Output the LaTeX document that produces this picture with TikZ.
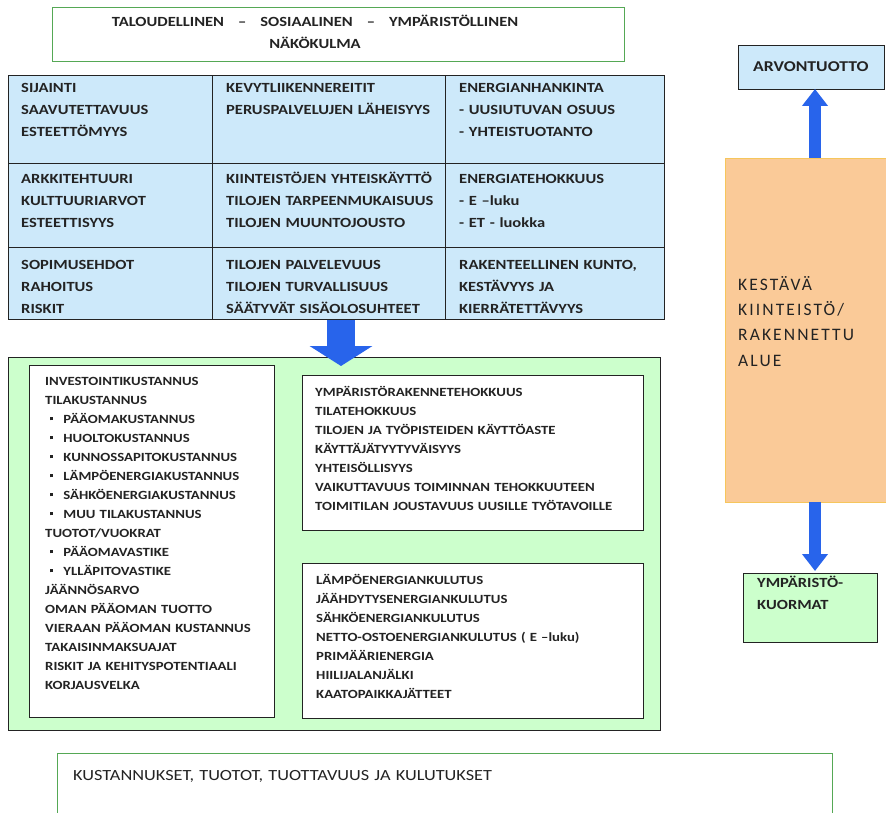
\documentclass[tikz,border=0pt]{standalone}
\usepackage{fontspec}
\setmainfont{Carlito}
\newfontfamily\boxfont[FakeStretch=1.18]{Carlito}
\newfontfamily\spacedfont[LetterSpace=12]{Carlito}
\usetikzlibrary{arrows.meta}

\definecolor{ink}{RGB}{35,35,35}
\definecolor{cellblue}{RGB}{205,233,250}
\definecolor{palegreen}{RGB}{204,255,204}
\definecolor{framegreen}{RGB}{85,168,85}
\definecolor{peach}{RGB}{250,202,152}
\definecolor{peachline}{RGB}{246,198,92}
\definecolor{arrowblue}{RGB}{40,100,235}

\newcommand{\sqitem}{\hspace*{5pt}\rule[2.6pt]{3.2pt}{3.2pt}\hspace*{10pt}}

\tikzset{
  boxframe/.style={draw=ink, line width=1.2pt, anchor=north west, inner sep=0pt},
  cell/.style={boxframe, fill=cellblue},
  gridtext/.style={anchor=base west, inner sep=0pt, align=left, text=ink, text width=#1,
    font=\boxfont\bfseries\fontsize{14}{22}\selectfont},
  gridtext/.default=200pt,
  listtext/.style={anchor=base west, inner sep=0pt, align=left, text=ink, text width=#1,
    font=\boxfont\bfseries\fontsize{12.5}{19}\selectfont},
  listtext/.default=320pt,
  bigarrow/.style={arrowblue, line width=28pt, -{Triangle[width=62pt,length=20pt]}},
  smallarrow/.style={arrowblue, line width=12pt, -{Triangle[width=25pt,length=17pt]}}
}

\begin{document}
\begin{tikzpicture}[x=1pt,y=-1pt]
  \useasboundingbox (0,0) rectangle (886,813);

  % header
  \node[boxframe, draw=framegreen, fill=white, minimum width=572pt, minimum height=54pt] (view) at (52,7) {};
  \node[gridtext=500pt, anchor=base, align=center] (viewtext) at (315,26.5)
    {TALOUDELLINEN\ \ \ –\ \ \ SOSIAALINEN\ \ \ –\ \ \ YMPÄRISTÖLLINEN\\NÄKÖKULMA};

  % factors grid
  \node[cell, minimum width=204pt, minimum height=88pt] (c11) at (8,75) {};
  \node[cell, minimum width=233pt, minimum height=88pt] (c12) at (212,75) {};
  \node[cell, minimum width=219pt, minimum height=88pt] (c13) at (445,75) {};
  \node[cell, minimum width=204pt, minimum height=84pt] (c21) at (8,163) {};
  \node[cell, minimum width=233pt, minimum height=84pt] (c22) at (212,163) {};
  \node[cell, minimum width=219pt, minimum height=84pt] (c23) at (445,163) {};
  \node[cell, minimum width=204pt, minimum height=72pt] (c31) at (8,247) {};
  \node[cell, minimum width=233pt, minimum height=72pt] (c32) at (212,247) {};
  \node[cell, minimum width=219pt, minimum height=72pt] (c33) at (445,247) {};

  \node[gridtext] (t11) at (21,92.5) {SIJAINTI\\SAAVUTETTAVUUS\\ESTEETTÖMYYS};
  \node[gridtext=230pt] (t12) at (226,92.5) {KEVYTLIIKENNEREITIT\\PERUSPALVELUJEN LÄHEISYYS};
  \node[gridtext] (t13) at (459,92.5) {ENERGIANHANKINTA\\- UUSIUTUVAN OSUUS\\- YHTEISTUOTANTO};
  \node[gridtext] (t21) at (21,184) {ARKKITEHTUURI\\KULTTUURIARVOT\\ESTEETTISYYS};
  \node[gridtext=230pt] (t22) at (226,184) {KIINTEISTÖJEN YHTEISKÄYTTÖ\\TILOJEN TARPEENMUKAISUUS\\TILOJEN MUUNTOJOUSTO};
  \node[gridtext] (t23) at (459,184) {ENERGIATEHOKKUUS\\- E –luku\\- ET - luokka};
  \node[gridtext] (t31) at (21,269.5) {SOPIMUSEHDOT\\RAHOITUS\\RISKIT};
  \node[gridtext=230pt] (t32) at (226,269.5) {TILOJEN PALVELEVUUS\\TILOJEN TURVALLISUUS\\SÄÄTYVÄT SISÄOLOSUHTEET};
  \node[gridtext] (t33) at (459,269.5) {RAKENTEELLINEN KUNTO,\\KESTÄVYYS JA\\KIERRÄTETTÄVYYS};

  % measures
  \node[boxframe, fill=palegreen, minimum width=652pt, minimum height=373pt] (costs) at (8,357) {};
  \node[boxframe, fill=white, minimum width=245pt, minimum height=352pt] (money) at (29,365) {};
  \node[boxframe, fill=white, minimum width=341pt, minimum height=155pt] (space) at (302,375) {};
  \node[boxframe, fill=white, minimum width=341pt, minimum height=155pt] (energy) at (302,563) {};

  \node[listtext=230pt] (moneytext) at (45,385)
    {INVESTOINTIKUSTANNUS\\TILAKUSTANNUS\\
     \sqitem PÄÄOMAKUSTANNUS\\\sqitem HUOLTOKUSTANNUS\\\sqitem KUNNOSSAPITOKUSTANNUS\\
     \sqitem LÄMPÖENERGIAKUSTANNUS\\\sqitem SÄHKÖENERGIAKUSTANNUS\\\sqitem MUU TILAKUSTANNUS\\
     TUOTOT/VUOKRAT\\\sqitem PÄÄOMAVASTIKE\\\sqitem YLLÄPITOVASTIKE\\
     JÄÄNNÖSARVO\\OMAN PÄÄOMAN TUOTTO\\VIERAAN PÄÄOMAN KUSTANNUS\\TAKAISINMAKSUAJAT\\
     RISKIT JA KEHITYSPOTENTIAALI\\KORJAUSVELKA};
  \node[listtext] (spacetext) at (315,396)
    {YMPÄRISTÖRAKENNETEHOKKUUS\\TILATEHOKKUUS\\TILOJEN JA TYÖPISTEIDEN KÄYTTÖASTE\\
     KÄYTTÄJÄTYYTYVÄISYYS\\YHTEISÖLLISYYS\\VAIKUTTAVUUS TOIMINNAN TEHOKKUUTEEN\\
     TOIMITILAN JOUSTAVUUS UUSILLE TYÖTAVOILLE};
  \node[listtext] (energytext) at (316,584)
    {LÄMPÖENERGIANKULUTUS\\JÄÄHDYTYSENERGIANKULUTUS\\SÄHKÖENERGIANKULUTUS\\
     NETTO-OSTOENERGIANKULUTUS ( E –luku)\\PRIMÄÄRIENERGIA\\HIILIJALANJÄLKI\\KAATOPAIKKAJÄTTEET};

  \coordinate (costtip) at (341,366);
  \draw[bigarrow] (c32.south -| costtip) -- (costtip);

  % right column
  \node[boxframe, fill=cellblue, minimum width=146pt, minimum height=44pt] (value) at (738,45) {};
  \node[gridtext=140pt, font=\boxfont\bfseries\fontsize{15}{20}\selectfont] (valuetext) at (753,72) {ARVONTUOTTO};
  \node[boxframe, draw=peachline, fill=peach, minimum width=175pt, minimum height=344pt] (estate) at (725,158) {};
  \node[gridtext=150pt, font=\spacedfont\fontsize{17.5}{25.5}\selectfont] (estatetext) at (738,290)
    {KESTÄVÄ\\KIINTEISTÖ/\\RAKENNETTU\\ALUE};
  \node[boxframe, fill=palegreen, minimum width=134pt, minimum height=69pt] (load) at (743,573) {};
  \node[gridtext=120pt] (loadtext) at (757,587.5) {YMPÄRISTÖ-\\KUORMAT};

  \coordinate (upbase) at (815,158);
  \coordinate (uptip) at (815,89);
  \coordinate (downbase) at (815,502);
  \coordinate (downtip) at (815,571);
  \draw[smallarrow] (upbase) -- (uptip);
  \draw[smallarrow] (downbase) -- (downtip);

  % summary
  \node[boxframe, draw=framegreen, fill=white, minimum width=775pt, minimum height=80pt] (summary) at (57,753) {};
  \node[gridtext=700pt, font=\boxfont\fontsize{15.5}{20}\selectfont] (summarytext) at (73,780)
    {KUSTANNUKSET, TUOTOT, TUOTTAVUUS JA KULUTUKSET};
\end{tikzpicture}
\end{document}
